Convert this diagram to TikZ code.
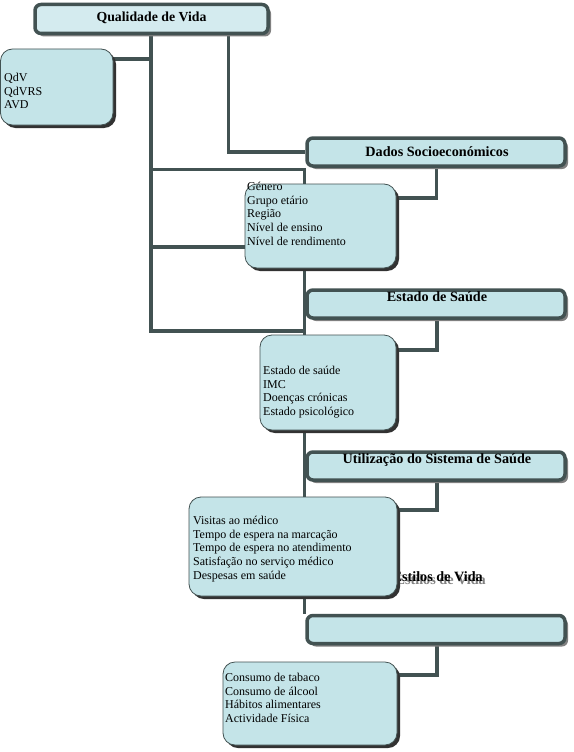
\documentclass[tikz,border=0pt]{standalone}
\usepackage{fontspec}
\setmainfont{Liberation Serif}
\usetikzlibrary{shadows}
\definecolor{fillc}{RGB}{196,228,232}
\definecolor{titlefill}{RGB}{212,235,239}
\definecolor{bord}{RGB}{66,82,82}
\definecolor{shad}{RGB}{128,128,128}
\definecolor{dshad}{RGB}{50,50,50}
\pgfdeclarelayer{back}
\pgfdeclarelayer{lines}
\pgfsetlayers{back,lines,main}
\begin{document}
\begin{tikzpicture}[x=1pt,y=-1pt,
  conn/.style={draw=bord, line width=3.5pt},
  headbox/.style={draw=bord, line width=3.5pt, fill=fillc, rounded corners=6pt, inner sep=0pt,
    minimum width=258pt, minimum height=28pt,
    drop shadow={shadow xshift=3pt, shadow yshift=-3pt, fill=shad, opacity=1}},
  infobox/.style={draw=bord, line width=0.8pt, fill=fillc, rounded corners=12pt, inner sep=0pt,
    drop shadow={shadow xshift=3pt, shadow yshift=-3pt, fill=dshad, opacity=1}},
  headtxt/.style={font=\fontsize{14.2}{16}\selectfont\bfseries, inner sep=0pt},
  infotxt/.style={font=\fontsize{12}{13.7}\selectfont, align=left, anchor=north west, inner sep=0pt},
]
\begin{pgfonlayer}{back}
\useasboundingbox[fill=white] (0,0) rectangle (573,752);
\end{pgfonlayer}

% header boxes
\node[headbox, fill=titlefill, minimum width=233pt, minimum height=29pt] (title) at (151.5,19) {};
\node[headtxt, font=\fontsize{13.8}{16}\selectfont\bfseries] (titletxt) at (151.5,18) {Qualidade de Vida};
\node[headbox] (dados) at (436,152) {};
\node[headtxt] (dadostxt) at (437,152) {Dados Socioeconómicos};
\node[headbox] (estado) at (436,304) {};
\node[headtxt] (estadotxt) at (437,297) {Estado de Saúde};
\node[headbox] (utiliz) at (436,466) {};
\node[headtxt] (utiliztxt) at (437,460) {Utilização do Sistema de Saúde};
\node[headbox] (estilos) at (436,629.5) {};

% misplaced heading text of Estilos de Vida, with its grey shadow
\node[headtxt, anchor=east] (estilostxt) at (483,578)
  {\makebox[0pt][l]{\hspace{3pt}\raisebox{-3pt}{\textcolor{shad}{Estilos de Vida}}}Estilos de Vida};

% info boxes
\node[infobox, minimum width=112.5pt, minimum height=76pt] (qdv) at (56.75,87) {};
\node[infotxt] (qdvtxt) at (4,73) {QdV\\QdVRS\\AVD};
\node[infobox, minimum width=151pt, minimum height=84pt] (socio) at (320.5,226) {};
\node[infotxt] (sociotxt) at (247,182) {Género\\Grupo etário\\Região\\Nível de ensino\\Nível de rendimento};
\node[infobox, minimum width=136pt, minimum height=95pt] (saude) at (328,382.5) {};
\node[infotxt] (saudetxt) at (263,366) {Estado de saúde\\IMC\\Doenças crónicas\\Estado psicológico};
\node[infobox, minimum width=208pt, minimum height=99pt] (sistema) at (293,546.5) {};
\node[infotxt] (sistematxt) at (193,516) {Visitas ao médico\\Tempo de espera na marcação\\Tempo de espera no atendimento\\Satisfação no serviço médico\\Despesas em saúde};
\node[infobox, minimum width=174pt, minimum height=83pt] (vida) at (310,703.5) {};
\node[infotxt] (vidatxt) at (225,673) {Consumo de tabaco\\Consumo de álcool\\Hábitos alimentares\\Actividade Física};

% connectors
\coordinate (trunkA) at (151,331);
\coordinate (trunkB) at (304.5,614);
\coordinate (jq) at (151,59);
\coordinate (j1) at (151,169.5);
\coordinate (j2) at (151,247);
\begin{pgfonlayer}{lines}
\draw[conn] (title.south -| trunkA) -- (trunkA) -- (trunkA -| trunkB);
\draw[conn] (title.south -| 228.5,0) |- (dados.west);
\draw[conn] (qdv.east |- jq) -- (jq);
\draw[conn] (j1) -- (j1 -| trunkB) -- (trunkB);
\draw[conn] (j2) -- (j2 -| socio.west);
\draw[conn] (dados.south -| 436.5,0) |- (socio.east |- 0,198);
\draw[conn] (estado.south -| 437,0) |- (saude.east |- 0,350);
\draw[conn] (utiliz.south -| 437,0) |- (sistema.east |- 0,510);
\draw[conn] (estilos.south -| 437,0) |- (vida.east |- 0,675);
\end{pgfonlayer}
\end{tikzpicture}
\end{document}
